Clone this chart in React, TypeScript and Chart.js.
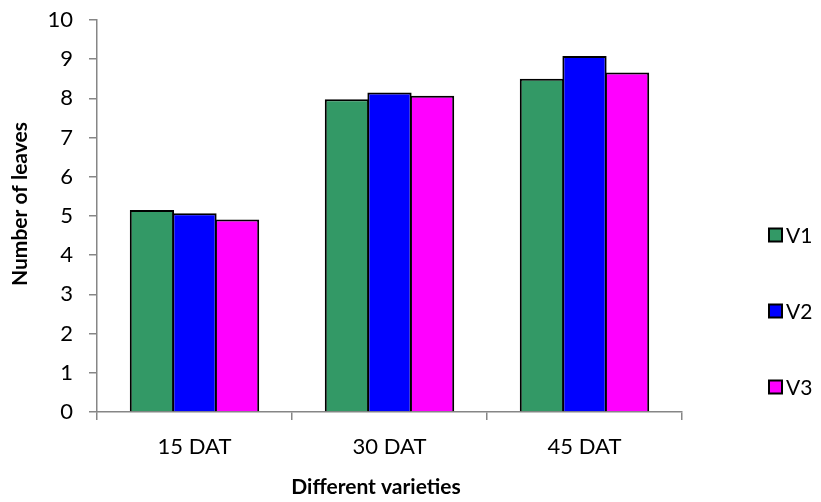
import React, { useEffect, useRef } from "react";
import { Chart, registerables } from "chart.js";

Chart.register(...registerables);

const categories = ["15 DAT", "30 DAT", "45 DAT"];
const seriesNames = ["V1", "V2", "V3"];
const v1 = [5.15, 7.98, 8.5];
const v2 = [5.07, 8.15, 9.08];
const v3 = [4.91, 8.07, 8.66];
const seriesColors = ["#339966", "#0000FF", "#FF00FF"];
const yTicks = [0, 1, 2, 3, 4, 5, 6, 7, 8, 9, 10];
const xTitle = "Different varieties";
const yTitle = "Number of leaves";

const FONT = "Lato, 'Open Sans', sans-serif";

const legendPlugin = {
  id: "customLegend",
  afterDraw(chart: any) {
    const ctx = chart.ctx;
    const items = chart.data.datasets;
    const x0 = 769;
    const yStart = 235;
    const step = 76;
    ctx.save();
    ctx.font = `21px ${FONT}`;
    ctx.textBaseline = "middle";
    items.forEach((ds: any, i: number) => {
      const y = yStart + i * step;
      ctx.fillStyle = ds.backgroundColor;
      ctx.fillRect(x0, y - 6.5, 13, 13);
      ctx.strokeStyle = "#000";
      ctx.lineWidth = 2;
      ctx.strokeRect(x0, y - 6.5, 13, 13);
      ctx.fillStyle = "#000";
      ctx.fillText(ds.label, x0 + 17, y + 1);
    });
    // axis titles
    ctx.font = `bold 21px ${FONT}`;
    ctx.textAlign = "center";
    ctx.fillText(xTitle, 376, 487);
    ctx.translate(20, 204);
    ctx.rotate(-Math.PI / 2);
    ctx.fillText(yTitle, 0, 0);
    ctx.restore();
  },
};

export default function App() {
  const ref = useRef<HTMLCanvasElement>(null);
  useEffect(() => {
    if (!ref.current) return;
    const data = [v1, v2, v3];
    const chart = new Chart(ref.current, {
      type: "bar",
      data: {
        labels: categories,
        datasets: seriesNames.map((n, i) => ({
          label: n,
          data: data[i],
          backgroundColor: seriesColors[i],
          borderColor: "#000",
          borderWidth: 2,
          categoryPercentage: 0.655,
          barPercentage: 1.04,
        })),
      },
      options: {
        responsive: false,
        animation: false,
        layout: { padding: { top: 20, right: 139, left: 0, bottom: 0 } },
        plugins: { legend: { display: false }, tooltip: { enabled: false } },
        scales: {
          x: {
            offset: true,
            grid: {
              display: true,
              offset: true,
              drawOnChartArea: false,
              color: "#868686",
              tickLength: 8,
              lineWidth: 1.5,
            },
            border: { display: true, color: "#868686", width: 1.5 },
            ticks: { color: "#000", font: { family: FONT, size: 22 }, padding: 14 },
            afterFit: (s: any) => {
              s.height = 90;
            },
          },
          y: {
            min: 0,
            max: 10,
            afterBuildTicks: (s: any) => {
              s.ticks = yTicks.map((v) => ({ value: v }));
            },
            grid: {
              display: true,
              drawOnChartArea: false,
              color: "#868686",
              tickLength: 8,
              lineWidth: 1.5,
            },
            border: { display: true, color: "#868686", width: 1.5 },
            ticks: { color: "#000", font: { family: FONT, size: 22 }, padding: 16 },
            afterFit: (s: any) => {
              s.width = 97;
              s.paddingTop = 0;
              s.paddingBottom = 0;
            },
          },
        },
      },
      plugins: [legendPlugin],
    });
    return () => chart.destroy();
  }, []);
  return (
    <canvas
      ref={ref}
      width={821}
      height={502}
      style={{ position: "absolute", left: 0, top: 0, background: "#fff" }}
    />
  );
}
